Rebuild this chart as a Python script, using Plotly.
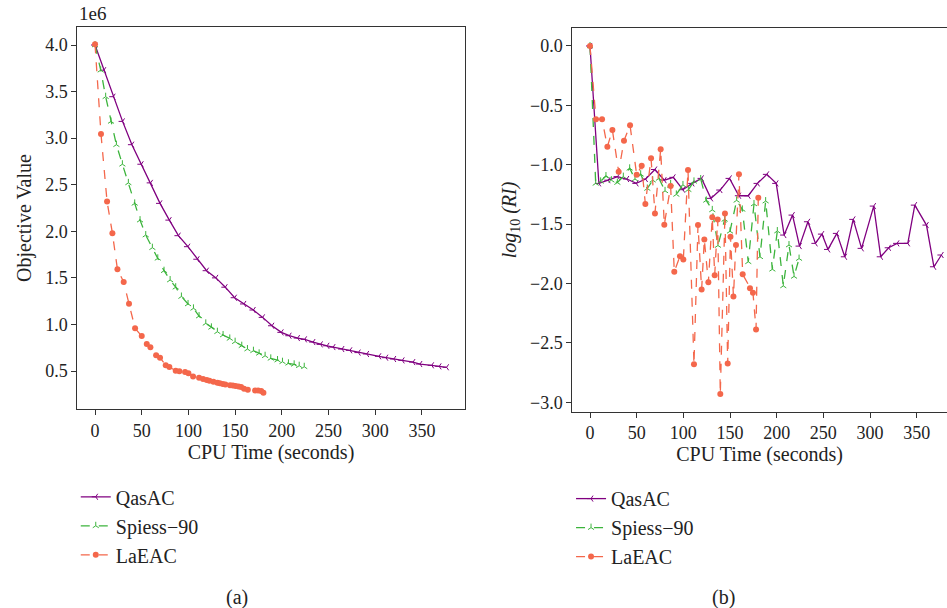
import plotly.graph_objects as go

# QasAC
t_qasac = [0, 9.5, 19.5, 29.5, 39.5, 49.6, 59.6, 69.6, 79.6, 89.3, 99.5, 109.5, 119.5, 129.5, 139.5,
           149.5, 159.5, 169.6, 179.5, 189.5, 199.5, 208, 217, 224.5, 233.5, 241.5, 248.5, 255, 264.5,
           273, 282, 291, 304, 311.5, 320, 329, 340.5, 348, 360.5, 368.5, 376.5]
obj_qasac = [4.0, 3.73, 3.445, 3.18, 2.93, 2.72, 2.52, 2.30, 2.12, 1.953, 1.835, 1.70, 1.577, 1.50, 1.40,
             1.287, 1.22, 1.155, 1.076, 0.986, 0.915, 0.879, 0.854, 0.84, 0.811, 0.786, 0.771, 0.757, 0.736,
             0.722, 0.698, 0.683, 0.658, 0.643, 0.629, 0.614, 0.596, 0.575, 0.561, 0.55, 0.54]
ri_qasac = [0, -1.157, -1.13, -1.10, -1.12, -1.157, -1.12, -1.04, -1.13, -1.106, -1.21, -1.157, -1.115,
            -1.283, -1.213, -1.115, -1.261, -1.261, -1.157, -1.081, -1.157, -1.592, -1.424, -1.685, -1.48,
            -1.662, -1.584, -1.713, -1.578, -1.775, -1.46, -1.704, -1.348, -1.775, -1.699, -1.662, -1.662,
            -1.34, -1.508, -1.859, -1.76]

# Spiess-90
t_spiess = [0, 6.1, 11.4, 17.1, 22.9, 29.3, 35.7, 42.5, 48.2, 54.3, 61.4, 67.2, 73.9, 80.4, 86.4, 92.5,
            99.6, 105.4, 111.4, 118.6, 124.6, 131, 137.1, 144.3, 150, 157.1, 163.2, 169.6, 175.7, 182.1,
            188.2, 195.4, 200.7, 207.1, 213.2, 218.6, 224]
obj_spiess = [4.0, 3.73, 3.445, 3.18, 2.93, 2.72, 2.52, 2.30, 2.12, 1.96, 1.824, 1.71, 1.577, 1.477, 1.40,
              1.30, 1.22, 1.173, 1.09, 1.012, 0.969, 0.922, 0.887, 0.85, 0.815, 0.772, 0.736, 0.718, 0.69,
              0.664, 0.636, 0.618, 0.60, 0.583, 0.572, 0.557, 0.546]
ri_spiess = [0, -1.157, -1.14, -1.095, -1.13, -1.15, -1.1, -1.03, -1.12, -1.08, -1.2, -1.13, -1.115,
             -1.22, -1.16, -1.25, -1.17, -1.21, -1.14, -1.12, -1.3, -1.38, -1.68, -1.46, -1.56, -1.30,
             -1.376, -1.817, -1.33, -1.775, -1.306, -1.88, -1.558, -2.02, -1.676, -1.94, -1.79]

# LaEAC
t_laeac = [0, 6.4, 12.9, 18.6, 24, 30.7, 36.4, 42.9, 50, 55.4, 59.3, 65.4, 69.6, 75.7, 79.6, 86.4, 90.3,
           96.4, 100, 105, 111.4, 115.7, 119.6, 122.5, 126.8, 131, 133.6, 136.8, 139.6, 144.6, 147.5,
           150.5, 153.7, 156.4, 159.6, 163.6, 171.4, 174.6, 177.9, 180.3]
obj_laeac = [4.007, 3.044, 2.32, 1.98, 1.592, 1.455, 1.222, 0.958, 0.876, 0.79, 0.754, 0.668, 0.643, 0.561,
             0.543, 0.503, 0.497, 0.49, 0.475, 0.44, 0.428, 0.415, 0.403, 0.396, 0.385, 0.375, 0.368, 0.36,
             0.355, 0.348, 0.345, 0.34, 0.333, 0.328, 0.31, 0.298, 0.29, 0.29, 0.285, 0.268]
ri_laeac = [0, -0.617, -0.617, -0.848, -0.708, -1.059, -0.798, -0.668, -1.084, -1.008, -1.331, -0.946,
            -1.41, -0.87, -1.505, -1.18, -1.90, -1.77, -1.797, -1.045, -2.68, -1.508, -2.05, -1.63, -1.99,
            -1.443, -1.93, -1.46, -2.93, -1.41, -2.673, -1.607, -2.11, -1.676, -1.081, -1.923, -2.04,
            -2.078, -2.387, -1.278]

x_ticks = [0, 50, 100, 150, 200, 250, 300, 350]
y_ticks_a = [0.5, 1.0, 1.5, 2.0, 2.5, 3.0, 3.5, 4.0]
y_ticks_b = [0.0, -0.5, -1.0, -1.5, -2.0, -2.5, -3.0]

FONT = "Liberation Serif"
PURPLE = "#800080"
GREEN = "#3cb43c"
RED = "#f4674b"

series = [
    ("QasAC", t_qasac, obj_qasac, ri_qasac, PURPLE, "solid", dict(symbol="y-left-open", size=5, line=dict(width=1, color=PURPLE))),
    ("Spiess\u221290", t_spiess, obj_spiess, ri_spiess, GREEN, "dash", dict(symbol="y-up-open", size=5, line=dict(width=1, color=GREEN))),
    ("LaEAC", t_laeac, obj_laeac, ri_laeac, RED, "dash", dict(symbol="circle", size=6, color=RED)),
]

fig = go.Figure()
for name, t, obj, ri, col, dash, mk in series:
    fig.add_trace(go.Scatter(x=t, y=obj, name=name, mode="lines+markers",
                             line=dict(color=col, width=1.3, dash=dash), marker=mk,
                             xaxis="x", yaxis="y", legend="legend"))
for name, t, obj, ri, col, dash, mk in series:
    fig.add_trace(go.Scatter(x=t, y=ri, name=name, mode="lines+markers",
                             line=dict(color=col, width=1.3, dash=dash), marker=mk,
                             xaxis="x2", yaxis="y2", legend="legend2"))

axis_common = dict(showline=True, linecolor="#333", linewidth=1, ticks="outside", ticklen=5,
                   tickcolor="#333", showgrid=False, zeroline=False, automargin=False,
                   tickfont=dict(family=FONT, size=18, color="#222"))

fig.update_layout(
    width=947, height=608, margin=dict(l=0, r=0, t=0, b=0),
    paper_bgcolor="white", plot_bgcolor="white",
    font=dict(family=FONT, size=18, color="#222"),
    xaxis=dict(domain=[0.0816, 0.4907], range=[-19, 395.8], tickvals=x_ticks, mirror=True,
               anchor="y", title=dict(text="CPU Time (seconds)", font=dict(size=20), standoff=2), **axis_common),
    yaxis=dict(domain=[0.3268, 0.956], range=[0.089, 4.196], tickvals=y_ticks_a,
               ticktext=[f"{v:.1f}" for v in y_ticks_a], mirror=True, anchor="x",
               title=dict(text="Objective Value", font=dict(size=20), standoff=8), **axis_common),
    xaxis2=dict(domain=[0.6043, 1.0], range=[-19, 382.5], tickvals=x_ticks, mirror=True,
                anchor="y2", title=dict(text="CPU Time (seconds)", font=dict(size=20), standoff=2), **axis_common),
    yaxis2=dict(domain=[0.3229, 0.9535], range=[-3.079, 0.149], tickvals=y_ticks_b,
                ticktext=[f"{v:.1f}".replace("-", "\u2212") for v in y_ticks_b], mirror=False, anchor="x2",
                title=dict(text="<i>log</i><sub>10</sub> <i>(RI)</i>", font=dict(size=20), standoff=8), **axis_common),
    legend=dict(x=0.080, y=0.215, xanchor="left", yanchor="top", bgcolor="rgba(0,0,0,0)",
                font=dict(family=FONT, size=20), tracegroupgap=0),
    legend2=dict(x=0.603, y=0.212, xanchor="left", yanchor="top", bgcolor="rgba(0,0,0,0)",
                 font=dict(family=FONT, size=20), tracegroupgap=0),
    annotations=[
        dict(text="1e6", x=0.0816, y=0.958, xref="paper", yref="paper", xanchor="left", yanchor="bottom",
             showarrow=False, font=dict(family=FONT, size=19)),
        dict(text="(a)", x=237 / 947, y=1 - 597 / 608, xref="paper", yref="paper", xanchor="center",
             yanchor="middle", showarrow=False, font=dict(family=FONT, size=20)),
        dict(text="(b)", x=723 / 947, y=1 - 597 / 608, xref="paper", yref="paper", xanchor="center",
             yanchor="middle", showarrow=False, font=dict(family=FONT, size=20)),
    ],
)

fig.write_html("out.html", config={"displayModeBar": False},
               post_script="document.body.style.margin='0px';")
